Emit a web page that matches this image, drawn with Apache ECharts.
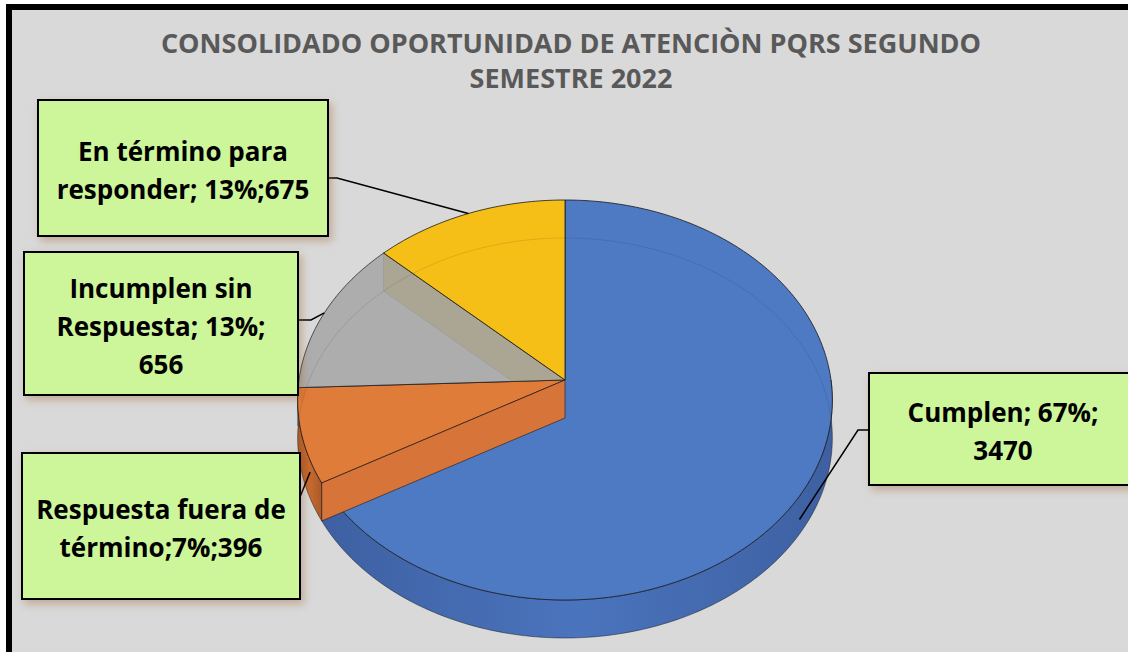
<!DOCTYPE html>
<html>
<head>
<meta charset="utf-8">
<title>Consolidado oportunidad de atención PQRS</title>
<script src="https://cdn.jsdelivr.net/npm/echarts@6/dist/echarts.min.js"></script>
<style>
    html, body { margin: 0; padding: 0; background: #ffffff; }
    #chart { width: 1128px; height: 652px; }
</style>
</head>
<body>
<div id="chart"></div>
<script>
// datos del gráfico
var categories = ['Cumplen', 'Respuesta fuera de término', 'Incumplen sin Respuesta', 'En término para responder'];
var values = [3470, 396, 656, 675];
var percents = [67, 7, 13, 13];
var titleLines = ['CONSOLIDADO OPORTUNIDAD DE ATENCIÒN PQRS SEGUNDO', 'SEMESTRE 2022'];

// formato de cada etiqueta (igual que en la hoja original)
var labelFormats = ['{n}; {p}%;\n{v}', '{n};{p}%;{v}', '{n}; {p}%;\n{v}', '{n}; {p}%;{v}'];
var labelWrap = [0, 3, 2, 3];

// colores
var topColors = ['#4e7ac4', '#e07c3a', '#a6a6a6', '#f6bf17'];
var topOpacity = [1, 1, 0.88, 1];
var sideColors = [['#3e60a2', '#4a74bd'], ['#a9592a', '#c86a30'], ['#8a8a8a', '#9a9a9a'], ['#c99a10', '#d9a812']];
var wallColors = ['#3f66ab', '#d6743a', '#8f8f8f', '#c9a20c'];
var wallOnTop = [false, true, false, false];

// cajas de etiquetas (posición en px)
var boxes = [
    {x: 869, y: 373, w: 268, h: 112, side: 'left', ly: 430, elbow: 11},
    {x: 22, y: 453, w: 278, h: 146, side: 'right', ly: 497, elbow: 0},
    {x: 24, y: 252, w: 274, h: 143, side: 'right', ly: 320, elbow: 13},
    {x: 38, y: 100, w: 290, h: 136, side: 'right', ly: 178, elbow: 9}
];

// geometría del pastel 3D
var cx = 565, cy = 380, rx = 266, ry = 198, persp = 0.1, depth = 38;

function proj(a, rf, dy) {
    var r = a * Math.PI / 180;
    var sx = Math.sin(r) * rf, sz = -Math.cos(r) * rf;
    var k = 1 / (1 - persp * sz);
    return [cx + rx * sx * k, cy + ry * sz * k + (dy || 0)];
}

function arc(a0, a1, dy) {
    var pts = [];
    var n = Math.max(2, Math.ceil(Math.abs(a1 - a0)));
    for (var j = 0; j <= n; j++) {
        pts.push(proj(a0 + (a1 - a0) * j / n, 1, dy));
    }
    return pts;
}

function wrapName(name, k) {
    if (!k) return name;
    var w = name.split(' ');
    return w.slice(0, k).join(' ') + '\n' + w.slice(k).join(' ');
}

function labelText(i) {
    return labelFormats[i]
        .replace('{n}', wrapName(categories[i], labelWrap[i]))
        .replace('{p}', percents[i])
        .replace('{v}', values[i]);
}

var total = 0;
values.forEach(function (v) { total += v; });
var acc = 0;
var pieData = values.map(function (v, i) {
    var a0 = acc / total * 360;
    acc += v;
    return [v, a0, acc / total * 360, i];
});

var myChart = echarts.init(document.getElementById('chart'), null, {renderer: 'svg'});

function renderSlice(params, api) {
    var i = params.dataIndex;
    var a0 = api.value(1), a1 = api.value(2);
    var children = [];
    var C = [cx, cy];

    // pared lateral visible (mitad frontal)
    var s = Math.max(a0, 90), e = Math.min(a1, 270);
    if (e > s) {
        children.push({
            type: 'polygon', z2: 1,
            shape: {points: arc(s, e, 0).concat(arc(s, e, depth).reverse())},
            style: {
                fill: new echarts.graphic.LinearGradient(0, 0, 1, 0, [
                    {offset: 0, color: sideColors[i][0]},
                    {offset: 0.5, color: sideColors[i][1]},
                    {offset: 1, color: sideColors[i][0]}
                ]),
                stroke: 'rgba(20,20,20,0.6)', lineWidth: 0.8
            }
        });
    }

    // pared radial al inicio del sector
    if (a0 > 0) {
        var p = proj(a0, 1, 0), q = proj(a0, 1, depth);
        children.push({
            type: 'polygon', z2: wallOnTop[i] ? 4 : 2,
            shape: {points: [C, p, q, [cx, cy + depth]]},
            style: {fill: wallColors[i], stroke: 'rgba(20,20,20,0.7)', lineWidth: 0.8}
        });
    }

    // cara superior
    children.push({
        type: 'polygon', z2: 3,
        shape: {points: [C].concat(arc(a0, a1, 0))},
        style: {fill: topColors[i], opacity: topOpacity[i], stroke: 'rgba(25,25,25,0.8)', lineWidth: 1}
    });

    // borde trasero inferior que se transparenta
    if (i === 0) {
        children.push({
            type: 'polyline', z2: 3.5, silent: true,
            shape: {points: arc(270, 450, depth)},
            style: {fill: null, stroke: 'rgba(0,0,0,0.10)', lineWidth: 1}
        });
    }

    // línea guía
    var m = (a0 + a1) / 2;
    var front = -Math.cos(m * Math.PI / 180) > 0;
    var anchor = front ? proj(m, 0.97, depth) : proj(m, 1, 0);
    var b = boxes[i];
    var ex = b.side === 'left' ? b.x : b.x + b.w;
    var dir = b.side === 'left' ? -1 : 1;
    var pts = [[ex, b.ly]];
    if (b.elbow) pts.push([ex + dir * b.elbow, b.ly]);
    pts.push(anchor);
    children.push({
        type: 'polyline', z2: 9,
        shape: {points: pts},
        style: {fill: null, stroke: '#000000', lineWidth: 1.5}
    });

    // caja de etiqueta
    children.push({
        type: 'rect', z2: 10,
        shape: {x: b.x, y: b.y, width: b.w, height: b.h},
        style: {
            fill: '#cdf599', stroke: '#000000', lineWidth: 2,
            shadowBlur: 8, shadowOffsetX: 3, shadowOffsetY: 4,
            shadowColor: 'rgba(150,80,20,0.35)'
        }
    });
    children.push({
        type: 'text', z2: 11,
        style: {
            text: labelText(i),
            x: b.x + b.w / 2, y: b.y + b.h / 2 + 2,
            align: 'center', verticalAlign: 'middle',
            font: 'bold 26px "Open Sans", sans-serif',
            lineHeight: 38, fill: '#000000'
        }
    });

    return {type: 'group', children: children};
}

myChart.setOption({
    animation: false,
    graphic: [
        {type: 'rect', z: -10, shape: {x: 6, y: 4, width: 1200, height: 700}, style: {fill: '#000000'}},
        {type: 'rect', z: -9, shape: {x: 12, y: 10, width: 1200, height: 700}, style: {fill: '#d9d9d9'}},
        {
            type: 'text', z: 5,
            style: {
                text: titleLines.join('\n'),
                x: 571, y: 60,
                align: 'center', verticalAlign: 'middle',
                font: 'bold 27px "Open Sans", sans-serif',
                lineHeight: 35, fill: '#595959'
            }
        }
    ],
    series: [{
        type: 'custom',
        coordinateSystem: 'none',
        renderItem: renderSlice,
        data: pieData
    }]
});
</script>
</body>
</html>
